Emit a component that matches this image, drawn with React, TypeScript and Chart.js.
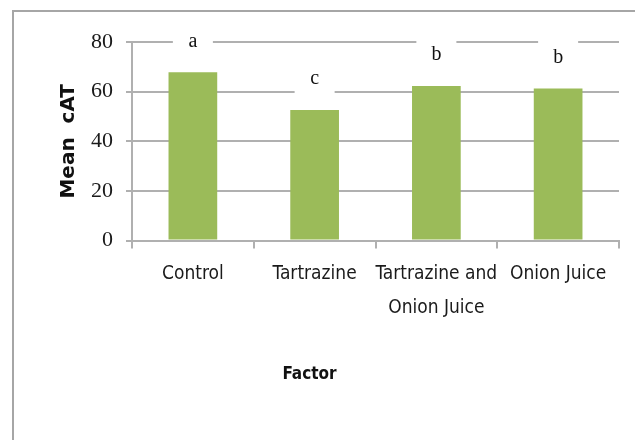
import React, { useEffect, useRef } from "react";
import { Chart, registerables } from "chart.js";

Chart.register(...registerables);

// ---- data ----
const categories: (string | string[])[] = [
  "Control",
  "Tartrazine",
  ["Tartrazine and", "Onion Juice"],
  "Onion Juice",
];
const meanCAT = [67.8, 52.6, 62.3, 61.3];
const groupLetters = ["a", "c", "b", "b"];
const yMin = 0;
const yMax = 80;
const yStep = 20;
const yTitle = "Mean  cAT";
const xTitle = "Factor";

const GRID = "#b0b0b0";
const BAR = "#9bbb59";
const COND = "'DejaVu Sans Condensed', 'DejaVu Sans', sans-serif";

const framePlugin = {
  id: "frame",
  beforeDraw(chart: any) {
    const { ctx, width, height } = chart;
    ctx.save();
    ctx.fillStyle = "#ffffff";
    ctx.fillRect(0, 0, width, height);
    ctx.strokeStyle = "#a6a6a6";
    ctx.lineWidth = 2;
    ctx.beginPath();
    ctx.moveTo(13, height);
    ctx.lineTo(13, 11);
    ctx.lineTo(width, 11);
    ctx.stroke();
    ctx.restore();
  },
};

const lettersPlugin = {
  id: "letters",
  afterDatasetsDraw(chart: any) {
    const { ctx } = chart;
    const meta = chart.getDatasetMeta(0);
    ctx.save();
    ctx.font = "20px 'Liberation Serif', serif";
    ctx.textAlign = "center";
    ctx.textBaseline = "middle";
    meta.data.forEach((bar: any, i: number) => {
      const { x, y } = bar.getProps(["x", "y"], true);
      const cy = y - 31;
      ctx.fillStyle = "#ffffff";
      ctx.fillRect(x - 20, cy - 23, 40, 46);
      ctx.fillStyle = "#111111";
      ctx.fillText(groupLetters[i], x, cy);
    });
    ctx.restore();
  },
};

export default function App() {
  const ref = useRef<HTMLCanvasElement | null>(null);

  useEffect(() => {
    if (!ref.current) return;
    const chart = new Chart(ref.current, {
      type: "bar",
      data: {
        labels: categories as any,
        datasets: [
          {
            data: meanCAT,
            backgroundColor: BAR,
            borderWidth: 0,
            categoryPercentage: 1,
            barPercentage: 0.4,
          },
        ],
      },
      options: {
        animation: false,
        responsive: false,
        layout: { padding: { top: 42, right: 16, left: 0, bottom: 0 } },
        plugins: {
          legend: { display: false },
          tooltip: { enabled: false },
          title: {
            display: true,
            text: xTitle,
            position: "bottom",
            color: "#111111",
            font: { family: COND, size: 17, weight: "bold" },
            padding: { top: 0, bottom: 55 },
          },
        },
        scales: {
          x: {
            afterFit: (s: any) => {
              s.height = 124;
            },
            grid: {
              display: true,
              drawOnChartArea: false,
              drawTicks: true,
              tickLength: 8,
              color: GRID,
              lineWidth: 2,
            },
            border: { display: true, color: GRID, width: 2 },
            ticks: {
              color: "#1a1a1a",
              padding: 8,
              maxRotation: 0,
              autoSkip: false,
              font: { family: COND, size: 19, lineHeight: 1.8 },
            },
          },
          y: {
            min: yMin,
            max: yMax,
            afterFit: (s: any) => {
              s.width = 132;
            },
            title: {
              display: true,
              text: yTitle,
              color: "#111111",
              font: { family: "'DejaVu Sans', sans-serif", size: 20, weight: "bold" },
              padding: { top: 57, bottom: 0 },
            },
            grid: {
              color: GRID,
              lineWidth: 2,
              tickLength: 6,
            },
            border: { display: true, color: GRID, width: 2 },
            ticks: {
              stepSize: yStep,
              padding: 13,
              color: "#1a1a1a",
              font: { family: "'Liberation Serif', serif", size: 22 },
            },
          },
        },
      },
      plugins: [framePlugin, lettersPlugin],
    });
    return () => chart.destroy();
  }, []);

  return (
    <div style={{ position: "absolute", left: 0, top: 0, width: 635, height: 440 }}>
      <canvas ref={ref} width={635} height={440} style={{ display: "block" }} />
    </div>
  );
}
